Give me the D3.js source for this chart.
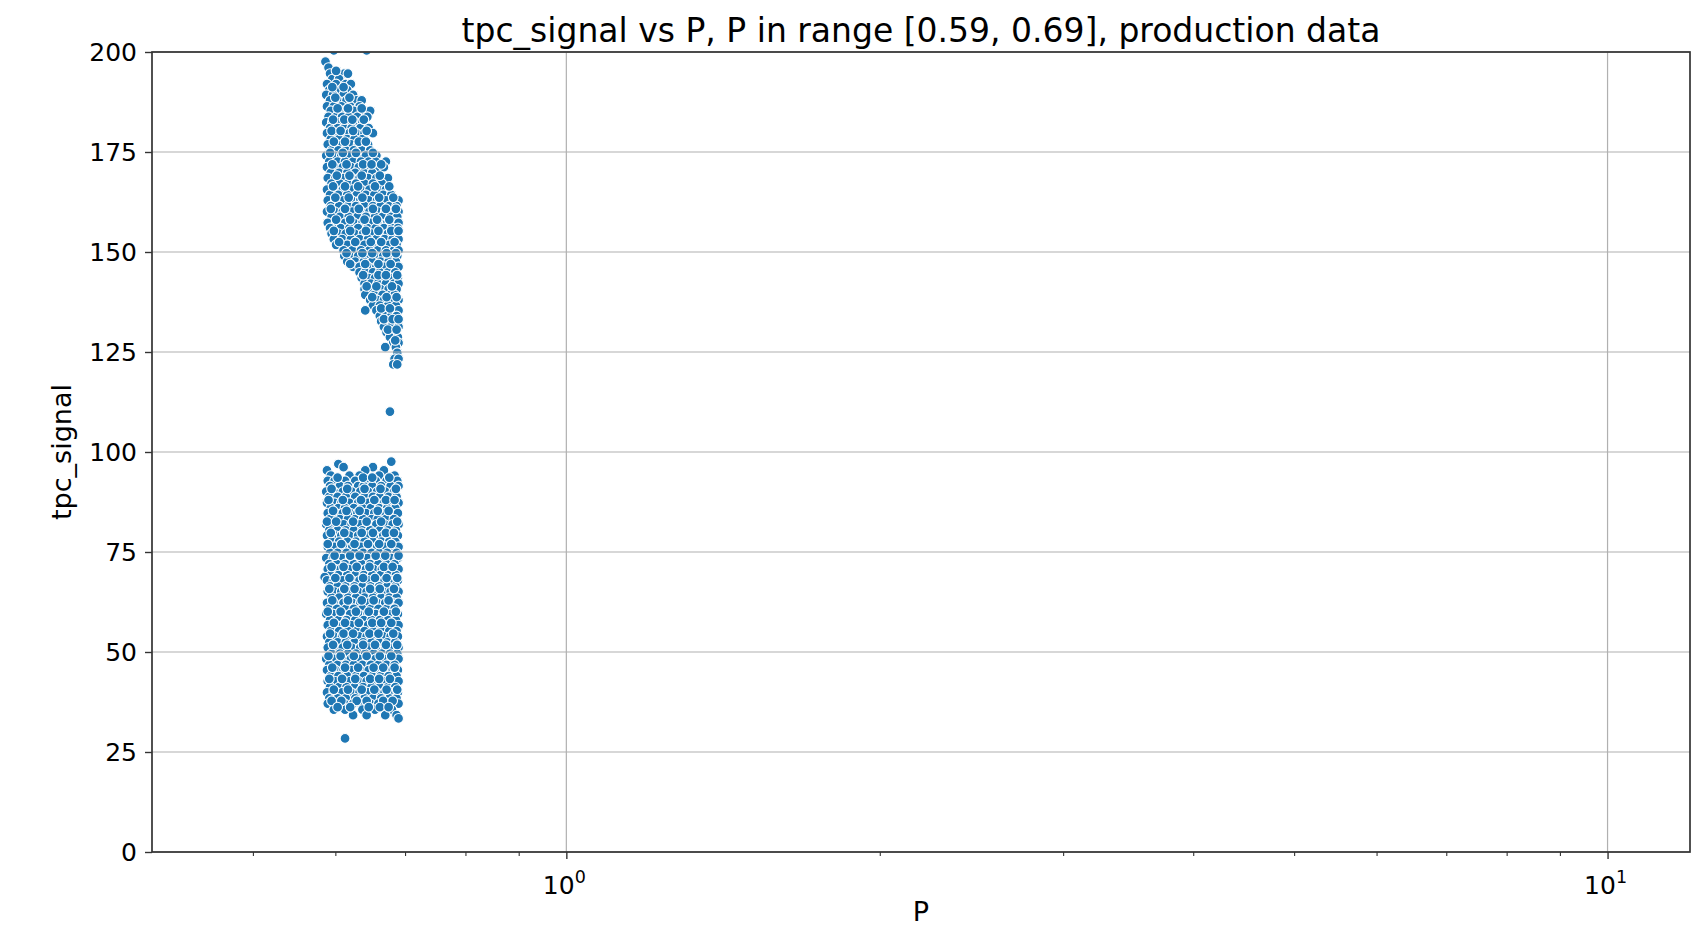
<!DOCTYPE html>
<html>
<head>
<meta charset="utf-8">
<script src="https://cdn.jsdelivr.net/npm/d3@7"></script>
<style>
  body { margin: 0; background: #fff; }
  text { font-family: "DejaVu Sans", sans-serif; fill: #000; }
</style>
</head>
<body>
<div id="chart"></div>
<script>
// values
const chartTitle = 'tpc_signal vs P, P in range [0.59, 0.69], production data';
const xLabel = 'P';
const yLabel = 'tpc_signal';
const xDomain = [0.4, 12];
const yDomain = [0, 200];
const yTicks = [0, 25, 50, 75, 100, 125, 150, 175, 200];
const xMajorTicks = [1, 10];
const xMinorTicks = [0.5, 0.6, 0.7, 0.8, 0.9, 2, 3, 4, 5, 6, 7, 8, 9];

// [tpc_signal, [P values in that row]]
const upperBand = [
    [200.4, [0.598, 0.643]],
    [197.6, [0.587]],
    [196.1, [0.591]],
    [194.6, [0.593, 0.612, 0.617]],
    [193.2, [0.596, 0.605]],
    [192.0, [0.589, 0.601, 0.614, 0.621]],
    [190.5, [0.592, 0.607, 0.616]],
    [189.3, [0.588, 0.597, 0.611, 0.624]],
    [187.9, [0.593, 0.603, 0.615, 0.629, 0.636]],
    [186.4, [0.589, 0.598, 0.608, 0.62, 0.633]],
    [185.3, [0.594, 0.612, 0.625, 0.641, 0.648]],
    [183.8, [0.591, 0.601, 0.609, 0.618, 0.63, 0.644]],
    [182.4, [0.588, 0.596, 0.606, 0.615, 0.627, 0.637]],
    [181.0, [0.593, 0.603, 0.612, 0.622, 0.634, 0.646]],
    [179.7, [0.589, 0.599, 0.61, 0.619, 0.628, 0.64, 0.652]],
    [178.2, [0.594, 0.605, 0.616, 0.626, 0.637]],
    [176.9, [0.59, 0.6, 0.609, 0.621, 0.631, 0.645]],
    [175.4, [0.595, 0.604, 0.614, 0.625, 0.636, 0.648]],
    [174.1, [0.588, 0.598, 0.608, 0.619, 0.63, 0.642, 0.657]],
    [172.6, [0.592, 0.603, 0.613, 0.624, 0.635, 0.646, 0.656, 0.671]],
    [171.2, [0.589, 0.599, 0.61, 0.621, 0.632, 0.644, 0.661, 0.668]],
    [169.8, [0.594, 0.605, 0.616, 0.627, 0.639, 0.651]],
    [168.5, [0.59, 0.6, 0.611, 0.622, 0.633, 0.645, 0.657, 0.674]],
    [167.1, [0.595, 0.606, 0.617, 0.628, 0.64, 0.652, 0.665]],
    [165.6, [0.589, 0.599, 0.61, 0.623, 0.635, 0.647, 0.66, 0.671]],
    [164.3, [0.593, 0.604, 0.616, 0.629, 0.642, 0.654, 0.667, 0.679]],
    [162.9, [0.59, 0.6, 0.611, 0.622, 0.634, 0.646, 0.658, 0.671, 0.684, 0.69]],
    [161.5, [0.594, 0.605, 0.617, 0.628, 0.64, 0.652, 0.663, 0.676, 0.687]],
    [160.1, [0.589, 0.599, 0.61, 0.623, 0.635, 0.647, 0.659, 0.67, 0.681, 0.69]],
    [158.8, [0.595, 0.606, 0.618, 0.63, 0.642, 0.655, 0.666, 0.678, 0.688]],
    [157.3, [0.59, 0.601, 0.613, 0.625, 0.637, 0.649, 0.661, 0.673, 0.684, 0.69]],
    [156.0, [0.593, 0.607, 0.619, 0.631, 0.644, 0.656, 0.668, 0.68, 0.689]],
    [154.6, [0.595, 0.604, 0.614, 0.626, 0.638, 0.65, 0.662, 0.674, 0.686]],
    [153.2, [0.598, 0.609, 0.621, 0.633, 0.645, 0.657, 0.669, 0.681, 0.69]],
    [151.8, [0.601, 0.616, 0.628, 0.64, 0.652, 0.664, 0.676, 0.687]],
    [150.4, [0.611, 0.623, 0.635, 0.647, 0.659, 0.671, 0.683, 0.69]],
    [149.0, [0.612, 0.619, 0.631, 0.643, 0.655, 0.667, 0.679, 0.688]],
    [147.6, [0.616, 0.627, 0.639, 0.651, 0.663, 0.675, 0.686]],
    [146.3, [0.624, 0.633, 0.645, 0.657, 0.669, 0.681, 0.69]],
    [144.9, [0.633, 0.641, 0.652, 0.662, 0.674, 0.685]],
    [143.5, [0.636, 0.646, 0.655, 0.667, 0.679, 0.689]],
    [142.1, [0.64, 0.649, 0.659, 0.671, 0.683, 0.69]],
    [140.7, [0.64, 0.651, 0.663, 0.675, 0.687]],
    [139.3, [0.641, 0.654, 0.666, 0.678, 0.684]],
    [138.0, [0.648, 0.658, 0.668, 0.68, 0.69]],
    [136.6, [0.652, 0.662, 0.674, 0.686]],
    [135.4, [0.641, 0.657, 0.669, 0.681, 0.69]],
    [134.0, [0.662, 0.671, 0.679, 0.687]],
    [132.7, [0.664, 0.673, 0.684]],
    [131.3, [0.668, 0.679, 0.69]],
    [129.9, [0.672, 0.685]],
    [128.7, [0.677, 0.689]],
    [127.3, [0.682, 0.69]],
    [126.2, [0.67, 0.686]],
    [124.8, [0.688]],
    [123.3, [0.684, 0.69]],
    [121.9, [0.682, 0.688]]
];

// extra markers lying between the rows above
const upperFill = [
    [195.3, [0.601]],
    [191.2, [0.596, 0.611]],
    [188.6, [0.6, 0.619]],
    [185.9, [0.603, 0.617, 0.636]],
    [183.1, [0.597, 0.612, 0.623, 0.639]],
    [180.3, [0.595, 0.607, 0.624, 0.643]],
    [177.6, [0.598, 0.613, 0.632, 0.642]],
    [174.8, [0.593, 0.61, 0.628, 0.652]],
    [171.9, [0.596, 0.615, 0.638, 0.65, 0.664]],
    [169.1, [0.602, 0.619, 0.636, 0.662]],
    [166.4, [0.597, 0.613, 0.631, 0.655, 0.676]],
    [163.6, [0.6, 0.618, 0.637, 0.661, 0.682]],
    [160.8, [0.594, 0.613, 0.632, 0.652, 0.671, 0.686]],
    [158.1, [0.601, 0.62, 0.64, 0.658, 0.676]],
    [155.3, [0.598, 0.62, 0.642, 0.66, 0.679, 0.69]],
    [152.5, [0.605, 0.627, 0.649, 0.664, 0.684]],
    [149.7, [0.615, 0.637, 0.651, 0.672, 0.686]],
    [147.0, [0.62, 0.641, 0.66, 0.678]],
    [144.2, [0.638, 0.66, 0.671, 0.688]],
    [141.4, [0.643, 0.657, 0.68]],
    [138.7, [0.651, 0.672, 0.687]],
    [135.9, [0.664, 0.677]],
    [133.2, [0.668, 0.681, 0.69]],
    [130.6, [0.674, 0.687]],
    [127.9, [0.685]]
];

const lowerBand = [
    [97.6, [0.679]],
    [97.0, [0.604]],
    [96.2, [0.611, 0.652]],
    [95.4, [0.589, 0.641, 0.668]],
    [94.1, [0.594, 0.619, 0.633, 0.661, 0.684]],
    [92.8, [0.59, 0.599, 0.613, 0.627, 0.646, 0.656, 0.672, 0.688]],
    [91.5, [0.593, 0.606, 0.617, 0.631, 0.639, 0.651, 0.664, 0.678, 0.69]],
    [90.1, [0.588, 0.598, 0.61, 0.622, 0.634, 0.645, 0.658, 0.67, 0.683]],
    [88.8, [0.592, 0.603, 0.614, 0.627, 0.64, 0.652, 0.662, 0.675, 0.687]],
    [87.3, [0.589, 0.599, 0.608, 0.619, 0.631, 0.645, 0.657, 0.668, 0.68, 0.69]],
    [86.0, [0.594, 0.604, 0.613, 0.625, 0.637, 0.649, 0.661, 0.673, 0.685]],
    [84.7, [0.59, 0.6, 0.61, 0.62, 0.63, 0.642, 0.654, 0.666, 0.678, 0.689]],
    [83.2, [0.593, 0.606, 0.617, 0.627, 0.638, 0.65, 0.659, 0.671, 0.683]],
    [81.9, [0.588, 0.598, 0.611, 0.622, 0.634, 0.646, 0.657, 0.669, 0.681, 0.69]],
    [80.4, [0.592, 0.603, 0.614, 0.625, 0.637, 0.648, 0.662, 0.674, 0.686]],
    [79.1, [0.589, 0.6, 0.608, 0.619, 0.631, 0.643, 0.655, 0.667, 0.679, 0.689]],
    [77.6, [0.595, 0.605, 0.616, 0.628, 0.64, 0.652, 0.664, 0.676, 0.685]],
    [76.3, [0.59, 0.599, 0.611, 0.623, 0.635, 0.647, 0.658, 0.67, 0.682, 0.69]],
    [74.8, [0.593, 0.603, 0.615, 0.626, 0.638, 0.65, 0.661, 0.673, 0.687]],
    [73.5, [0.588, 0.597, 0.609, 0.62, 0.632, 0.644, 0.656, 0.668, 0.679, 0.689]],
    [72.0, [0.592, 0.602, 0.613, 0.625, 0.636, 0.648, 0.66, 0.672, 0.684]],
    [70.7, [0.59, 0.6, 0.607, 0.618, 0.63, 0.642, 0.653, 0.665, 0.677, 0.69]],
    [69.2, [0.594, 0.604, 0.616, 0.627, 0.639, 0.651, 0.663, 0.675, 0.686]],
    [68.7, [0.586]],
    [67.9, [0.589, 0.598, 0.61, 0.622, 0.633, 0.645, 0.657, 0.669, 0.681, 0.689]],
    [66.4, [0.593, 0.603, 0.614, 0.626, 0.637, 0.649, 0.661, 0.673, 0.685]],
    [65.1, [0.59, 0.599, 0.608, 0.619, 0.631, 0.643, 0.655, 0.667, 0.678, 0.69]],
    [63.6, [0.595, 0.605, 0.617, 0.628, 0.64, 0.652, 0.664, 0.676, 0.687]],
    [62.3, [0.589, 0.598, 0.611, 0.623, 0.634, 0.646, 0.658, 0.67, 0.682, 0.69]],
    [60.8, [0.592, 0.602, 0.614, 0.625, 0.637, 0.649, 0.66, 0.672, 0.684]],
    [59.5, [0.588, 0.597, 0.608, 0.62, 0.632, 0.644, 0.656, 0.667, 0.679, 0.689]],
    [58.0, [0.593, 0.604, 0.615, 0.627, 0.639, 0.65, 0.662, 0.674, 0.686]],
    [56.7, [0.59, 0.6, 0.61, 0.621, 0.633, 0.645, 0.657, 0.669, 0.681, 0.69]],
    [55.2, [0.594, 0.605, 0.617, 0.629, 0.64, 0.652, 0.664, 0.676, 0.687]],
    [53.9, [0.589, 0.598, 0.609, 0.62, 0.632, 0.643, 0.655, 0.667, 0.678, 0.689]],
    [52.4, [0.592, 0.603, 0.614, 0.626, 0.638, 0.65, 0.661, 0.673, 0.685]],
    [51.1, [0.59, 0.599, 0.61, 0.622, 0.634, 0.646, 0.658, 0.67, 0.682, 0.69]],
    [49.6, [0.595, 0.606, 0.617, 0.628, 0.641, 0.653, 0.665, 0.677, 0.688]],
    [48.3, [0.588, 0.598, 0.609, 0.621, 0.632, 0.644, 0.656, 0.668, 0.68, 0.69]],
    [46.8, [0.592, 0.603, 0.614, 0.625, 0.637, 0.649, 0.66, 0.672, 0.684]],
    [45.5, [0.589, 0.6, 0.611, 0.622, 0.634, 0.646, 0.657, 0.669, 0.681, 0.689]],
    [44.0, [0.594, 0.604, 0.616, 0.628, 0.639, 0.651, 0.663, 0.675, 0.687]],
    [42.7, [0.59, 0.599, 0.61, 0.62, 0.631, 0.643, 0.655, 0.667, 0.679, 0.69]],
    [41.2, [0.593, 0.605, 0.615, 0.626, 0.638, 0.65, 0.662, 0.674, 0.685]],
    [39.9, [0.589, 0.598, 0.609, 0.621, 0.633, 0.645, 0.657, 0.669, 0.681, 0.689]],
    [38.4, [0.592, 0.603, 0.614, 0.627, 0.64, 0.652, 0.664, 0.676, 0.687]],
    [37.1, [0.59, 0.6, 0.612, 0.624, 0.635, 0.648, 0.66, 0.673, 0.684, 0.69]],
    [35.6, [0.598, 0.613, 0.637, 0.655, 0.68]],
    [34.2, [0.624, 0.643, 0.67, 0.687]],
    [33.4, [0.69]]
];

const lowerFill = [
    [93.6, [0.603, 0.638, 0.651, 0.676]],
    [90.8, [0.595, 0.616, 0.64, 0.663, 0.686]],
    [88.0, [0.591, 0.61, 0.635, 0.654, 0.671, 0.684]],
    [85.3, [0.597, 0.615, 0.633, 0.659, 0.675]],
    [82.6, [0.589, 0.601, 0.624, 0.643, 0.664, 0.688]],
    [79.8, [0.594, 0.612, 0.636, 0.652, 0.671, 0.683]],
    [77.0, [0.59, 0.608, 0.626, 0.645, 0.661, 0.679]],
    [74.1, [0.599, 0.62, 0.633, 0.656, 0.67, 0.69]],
    [71.3, [0.595, 0.611, 0.629, 0.647, 0.668, 0.681]],
    [68.5, [0.6, 0.619, 0.638, 0.655, 0.672, 0.688]],
    [65.8, [0.592, 0.612, 0.626, 0.648, 0.662, 0.683]],
    [62.9, [0.596, 0.617, 0.636, 0.653, 0.675]],
    [60.1, [0.59, 0.607, 0.628, 0.646, 0.668, 0.686]],
    [57.3, [0.598, 0.613, 0.632, 0.651, 0.664, 0.679]],
    [54.6, [0.593, 0.611, 0.624, 0.647, 0.66, 0.682]],
    [51.8, [0.597, 0.616, 0.638, 0.655, 0.671, 0.688]],
    [49.0, [0.591, 0.607, 0.625, 0.643, 0.662, 0.679]],
    [46.1, [0.596, 0.613, 0.631, 0.653, 0.667, 0.684]],
    [43.3, [0.592, 0.609, 0.627, 0.648, 0.661, 0.677]],
    [40.6, [0.598, 0.617, 0.636, 0.654, 0.672, 0.688]],
    [37.8, [0.595, 0.608, 0.629, 0.643, 0.667, 0.681]],
    [36.2, [0.603, 0.62, 0.646, 0.662, 0.675]]
];

const strayPoints = [[110.1, 0.677], [28.4, 0.613]];

const width = 1692;
const height = 928;
const plot = { left: 152, right: 1690, top: 52, bottom: 852 };

const svg = d3.select('#chart')
    .append('svg')
    .attr('width', width)
    .attr('height', height);

svg.append('rect').attr('width', width).attr('height', height).attr('fill', '#fff');

const x = d3.scaleLog().domain(xDomain).range([plot.left, plot.right]);
const y = d3.scaleLinear().domain(yDomain).range([plot.bottom, plot.top]);

const toPoints = rows => rows.flatMap(([s, ps]) => ps.map(p => ({ p, s })));
const points = toPoints(upperBand)
    .concat(toPoints(lowerBand))
    .concat(toPoints(upperFill))
    .concat(toPoints(lowerFill))
    .concat(strayPoints.map(([s, p]) => ({ p, s })));

svg.append('clipPath').attr('id', 'plot-clip')
    .append('rect')
    .attr('x', plot.left).attr('y', plot.top)
    .attr('width', plot.right - plot.left)
    .attr('height', plot.bottom - plot.top);

svg.append('g')
    .attr('clip-path', 'url(#plot-clip)')
    .selectAll('circle')
    .data(points)
    .enter()
    .append('circle')
    .attr('cx', d => x(d.p))
    .attr('cy', d => y(d.s))
    .attr('r', 4.9)
    .attr('fill', '#1f77b4')
    .attr('stroke', '#fff')
    .attr('stroke-width', 1.1);

// grid sits above the markers, like matplotlib does for collections
const grid = svg.append('g').attr('stroke', '#b0b0b0').attr('stroke-width', 1.2);
grid.selectAll('line.h')
    .data(yTicks)
    .enter()
    .append('line')
    .attr('x1', plot.left).attr('x2', plot.right)
    .attr('y1', d => y(d)).attr('y2', d => y(d));
grid.selectAll('line.v')
    .data(xMajorTicks)
    .enter()
    .append('line')
    .attr('y1', plot.top).attr('y2', plot.bottom)
    .attr('x1', d => x(d)).attr('x2', d => x(d));

// y axis
const yAxis = svg.append('g')
    .attr('transform', `translate(${plot.left},0)`)
    .call(d3.axisLeft(y).tickValues(yTicks).tickSize(7).tickPadding(8));
yAxis.select('.domain').remove();
yAxis.selectAll('line').attr('stroke', '#333').attr('stroke-width', 1.4);
yAxis.selectAll('text')
    .attr('font-size', 25)
    .attr('font-family', '"DejaVu Sans", sans-serif')
    .attr('fill', '#000');

// x axis: minor ticks
const xMinor = svg.append('g')
    .attr('transform', `translate(0,${plot.bottom})`)
    .call(d3.axisBottom(x).tickValues(xMinorTicks).tickSize(4).tickFormat(''));
xMinor.select('.domain').remove();
xMinor.selectAll('line').attr('stroke', '#333').attr('stroke-width', 1.1);

// x axis: major ticks with 10^n labels
const xMajor = svg.append('g')
    .attr('transform', `translate(0,${plot.bottom})`)
    .call(d3.axisBottom(x).tickValues(xMajorTicks).tickSize(7).tickFormat(''));
xMajor.select('.domain').remove();
xMajor.selectAll('line').attr('stroke', '#333').attr('stroke-width', 1.4);

const majorLabels = svg.append('g')
    .selectAll('text')
    .data(xMajorTicks)
    .enter()
    .append('text')
    .attr('x', d => x(d) - 2)
    .attr('y', plot.bottom + 42)
    .attr('text-anchor', 'middle')
    .attr('font-size', 25);
majorLabels.append('tspan').text('10');
majorLabels.append('tspan')
    .attr('dy', -11)
    .attr('font-size', 17.5)
    .text(d => Math.round(Math.log10(d)));

// spines
svg.append('rect')
    .attr('x', plot.left).attr('y', plot.top)
    .attr('width', plot.right - plot.left)
    .attr('height', plot.bottom - plot.top)
    .attr('fill', 'none')
    .attr('stroke', '#333')
    .attr('stroke-width', 1.7);

// titles
svg.append('text')
    .attr('x', (plot.left + plot.right) / 2)
    .attr('y', 42)
    .attr('text-anchor', 'middle')
    .attr('font-size', 33)
    .text(chartTitle);

svg.append('text')
    .attr('x', (plot.left + plot.right) / 2)
    .attr('y', 921)
    .attr('text-anchor', 'middle')
    .attr('font-size', 27)
    .text(xLabel);

svg.append('text')
    .attr('transform', `translate(71,${(plot.top + plot.bottom) / 2}) rotate(-90)`)
    .attr('text-anchor', 'middle')
    .attr('font-size', 27)
    .text(yLabel);
</script>
</body>
</html>
